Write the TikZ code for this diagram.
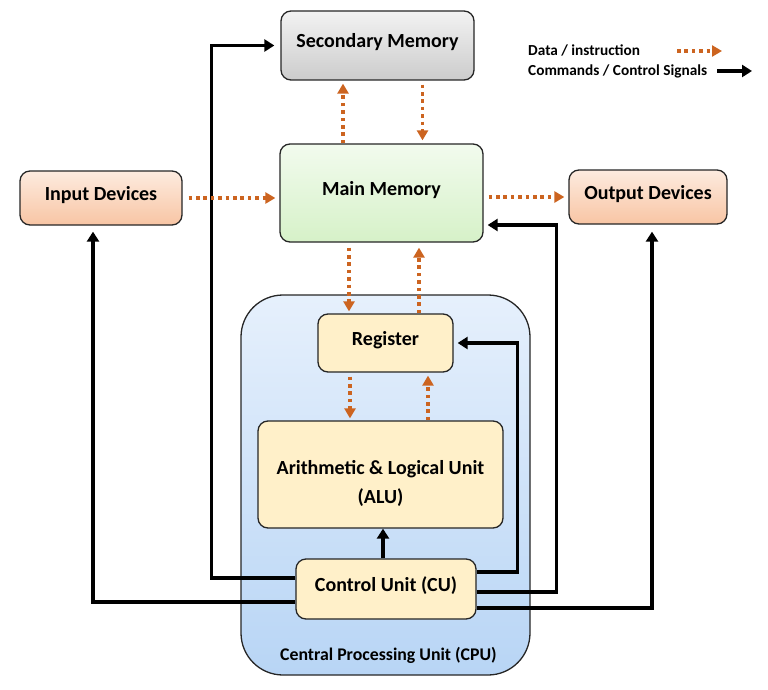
\documentclass[tikz,border=0pt]{standalone}
\usepackage{fontspec}
\setmainfont{Carlito}
\usetikzlibrary{arrows.meta,calc}
\definecolor{dataor}{HTML}{CC6420}
\definecolor{edge}{HTML}{262626}
\definecolor{unitfill}{HTML}{FFF0C9}
\definecolor{cputop}{HTML}{E6F0FC}
\definecolor{cpubot}{HTML}{B8D5F5}
\definecolor{greentop}{HTML}{F2FBEE}
\definecolor{greenbot}{HTML}{D6F1C8}
\definecolor{peachtop}{HTML}{FDEBDF}
\definecolor{peachbot}{HTML}{F8C5A4}
\begin{document}
\begin{tikzpicture}[x=1pt,y=-1pt,
  box/.style={draw=edge,line width=1.3pt,rounded corners=10pt,
    font=\bfseries\fontsize{20}{29}\selectfont,text height=13pt,text depth=9pt,align=center,inner sep=0pt},
  graybox/.style={box,top color=white!95!black,bottom color=black!20},
  greenbox/.style={box,top color=greentop,bottom color=greenbot},
  peachbox/.style={box,top color=peachtop,bottom color=peachbot},
  cpubox/.style={box,top color=cputop,bottom color=cpubot,rounded corners=42pt},
  unitbox/.style={box,fill=unitfill},
  ctrl/.style={draw=black,line width=3.4pt,-{Triangle[width=12pt,length=10pt]}},
  data/.style={draw=dataor,line width=3.6pt,dash pattern=on 3.6pt off 3.8pt,-{Triangle[width=11pt,length=10pt]}},
  legtext/.style={font=\bfseries\fontsize{15.3}{18}\selectfont,anchor=west,inner sep=0pt}]
\useasboundingbox (0,0) rectangle (768,690);

\node[cpubox,minimum width=289pt,minimum height=380pt] (CPU) at (385.5,485) {};
\node[font=\bfseries\fontsize{17.8}{20}\selectfont] (cpulabel) at ($(CPU.south)+(3,-20)$) {Central Processing Unit (CPU)};

\node[graybox,minimum width=193pt,minimum height=69pt] (Sec) at (377.5,45.5) {Secondary Memory};
\node[greenbox,minimum width=203pt,minimum height=98pt] (Main) at (381.5,193) {Main Memory};
\node[peachbox,minimum width=162pt,minimum height=54pt] (In) at (101,198) {Input Devices};
\node[peachbox,minimum width=158pt,minimum height=54pt] (Out) at (648,197) {Output Devices};
\node[unitbox,minimum width=135pt,minimum height=58pt] (Reg) at (385.5,343) {Register};
\node[unitbox,minimum width=245pt,minimum height=107pt,text height=57pt,text depth=0pt] (ALU) at (380.5,474.5) {Arithmetic \& Logical Unit\\(ALU)};
\node[unitbox,minimum width=180pt,minimum height=60pt] (CU) at (386,589) {Control Unit (CU)};

% control signals
\draw[ctrl,shorten >=6pt] ($(CU.west)+(0,-11)$) -- ++(-84,0) |- (Sec.west);
\draw[ctrl,shorten >=6pt] ($(CU.west)+(0,13)$) -| ($(In.south)+(-8,0)$);
\draw[ctrl,shorten >=4pt] ($(CU.east)+(0,-17)$) -- ++(41,0) |- (Reg.east);
\draw[ctrl,shorten >=4pt] ($(CU.east)+(0,3)$) -- ++(80,0) |- ($(Main.east)+(0,32)$);
\draw[ctrl,shorten >=7pt] ($(CU.east)+(0,19)$) -| ($(Out.south)+(4,0)$);
\draw[ctrl] ([xshift=-3pt]CU.north) -- ([xshift=-3pt]CU.north |- ALU.south);

% data flow
\draw[data,shorten >=3pt] ([xshift=-38.5pt]Main.north) -- ([xshift=-38.5pt]Main.north |- Sec.south);
\draw[data,shorten <=4pt,shorten >=3pt] ([xshift=45pt]Sec.south) -- ([xshift=45pt]Sec.south |- Main.north);
\draw[data,shorten <=6pt,shorten >=4pt] (In.east) -- (Main.west |- In.east);
\draw[data,shorten <=5pt,shorten >=4pt] (Main.east |- Out.west) -- (Out.west);
\draw[data,shorten <=5pt,shorten >=2pt] ([xshift=-32.5pt]Main.south) -- ([xshift=-32.5pt]Main.south |- Reg.north);
\draw[data,shorten >=5pt] ([xshift=37.5pt]Main.south |- Reg.north) -- ([xshift=37.5pt]Main.south);
\draw[data,shorten <=4pt,shorten >=2pt] ([xshift=-35.5pt]Reg.south) -- ([xshift=-35.5pt]Reg.south |- ALU.north);
\draw[data,shorten >=3pt] ([xshift=42.5pt]Reg.south |- ALU.north) -- ([xshift=42.5pt]Reg.south);

% legend
\node[legtext] (legdata) at (528,50) {Data / instruction};
\node[legtext] (legctrl) at (528,71) {Commands / Control Signals};
\coordinate (d1) at (677,51);
\coordinate (d2) at (722,51);
\coordinate (c1) at (717,71);
\coordinate (c2) at (752,71);
\draw[data] (d1) -- (d2);
\draw[ctrl] (c1) -- (c2);
\end{tikzpicture}
\end{document}
